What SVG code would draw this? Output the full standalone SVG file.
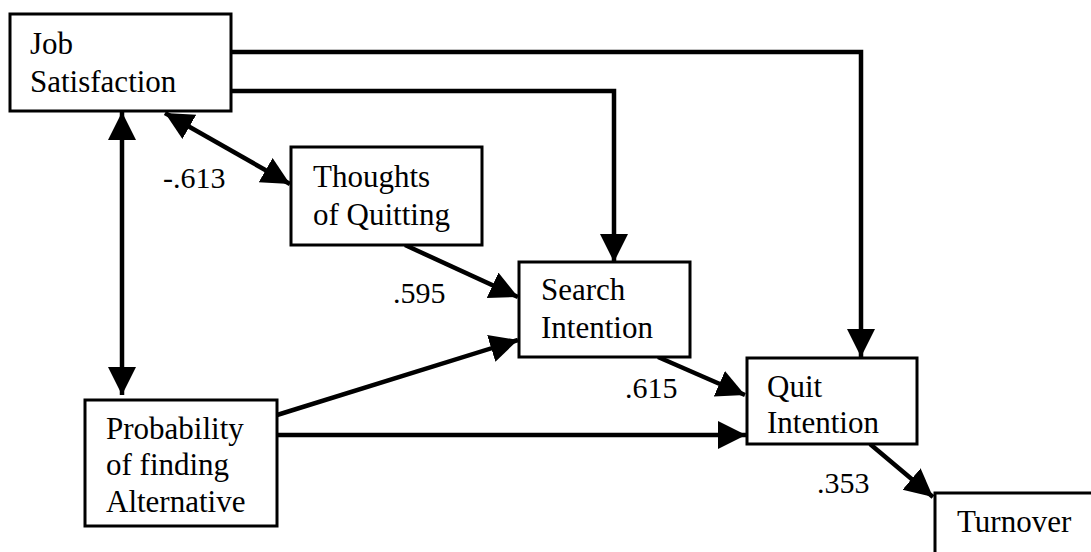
<svg xmlns="http://www.w3.org/2000/svg" width="1091" height="552" viewBox="0 0 1091 552">
<style>
.box{fill:#fff;stroke:#000;stroke-width:3}
.t{font-family:"Liberation Serif","Times New Roman",serif;font-size:31px;fill:#000}
.lbl{font-family:"Liberation Serif","Times New Roman",serif;font-size:30px;fill:#000}
.c{fill:none;stroke:#000;stroke-width:4.5}
</style>
<defs>
<marker id="ah" markerUnits="userSpaceOnUse" markerWidth="30" markerHeight="30" refX="28" refY="14" orient="auto-start-reverse">
<path d="M0,0 L28,14 L0,28 Z" fill="#000"/>
</marker>
</defs>
<rect width="1091" height="552" fill="#fff"/>
<g id="connectors">
<path class="c" d="M231,52 H861 V357" marker-end="url(#ah)"/>
<path class="c" d="M231,91 H614 V262" marker-end="url(#ah)"/>
<path class="c" d="M165,113 L290,184" marker-start="url(#ah)" marker-end="url(#ah)"/>
<path class="c" d="M122,112 V395" marker-start="url(#ah)" marker-end="url(#ah)"/>
<path class="c" d="M405,245 L518,297" marker-end="url(#ah)"/>
<path class="c" d="M277,415 L518,340" marker-end="url(#ah)"/>
<path class="c" d="M277,435 H746" marker-end="url(#ah)"/>
<path class="c" d="M658,357 L745,395" marker-end="url(#ah)"/>
<path class="c" d="M870,444 L933,497" marker-end="url(#ah)"/>
</g>
<g id="labels">
<text class="lbl" x="163" y="188">-.613</text>
<text class="lbl" x="393" y="303">.595</text>
<text class="lbl" x="625" y="398">.615</text>
<text class="lbl" x="817" y="493">.353</text>
</g>
<g id="job-satisfaction">
<rect class="box" x="10" y="14" width="221" height="97"/>
<text class="t" x="30" y="54">Job</text>
<text class="t" x="30" y="92">Satisfaction</text>
</g>
<g id="thoughts-of-quitting">
<rect class="box" x="291" y="147" width="191" height="98"/>
<text class="t" x="313" y="187">Thoughts</text>
<text class="t" x="313" y="225">of Quitting</text>
</g>
<g id="search-intention">
<rect class="box" x="519" y="262" width="171" height="95"/>
<text class="t" x="541" y="300">Search</text>
<text class="t" x="541" y="338">Intention</text>
</g>
<g id="quit-intention">
<rect class="box" x="747" y="358" width="170" height="86"/>
<text class="t" x="767" y="397">Quit</text>
<text class="t" x="767" y="433">Intention</text>
</g>
<g id="probability">
<rect class="box" x="85" y="400" width="192" height="126"/>
<text class="t" x="106" y="439">Probability</text>
<text class="t" x="106" y="475">of finding</text>
<text class="t" x="106" y="512">Alternative</text>
</g>
<g id="turnover">
<rect class="box" x="935" y="493" width="170" height="80"/>
<text class="t" x="957" y="532">Turnover</text>
</g>
</svg>
